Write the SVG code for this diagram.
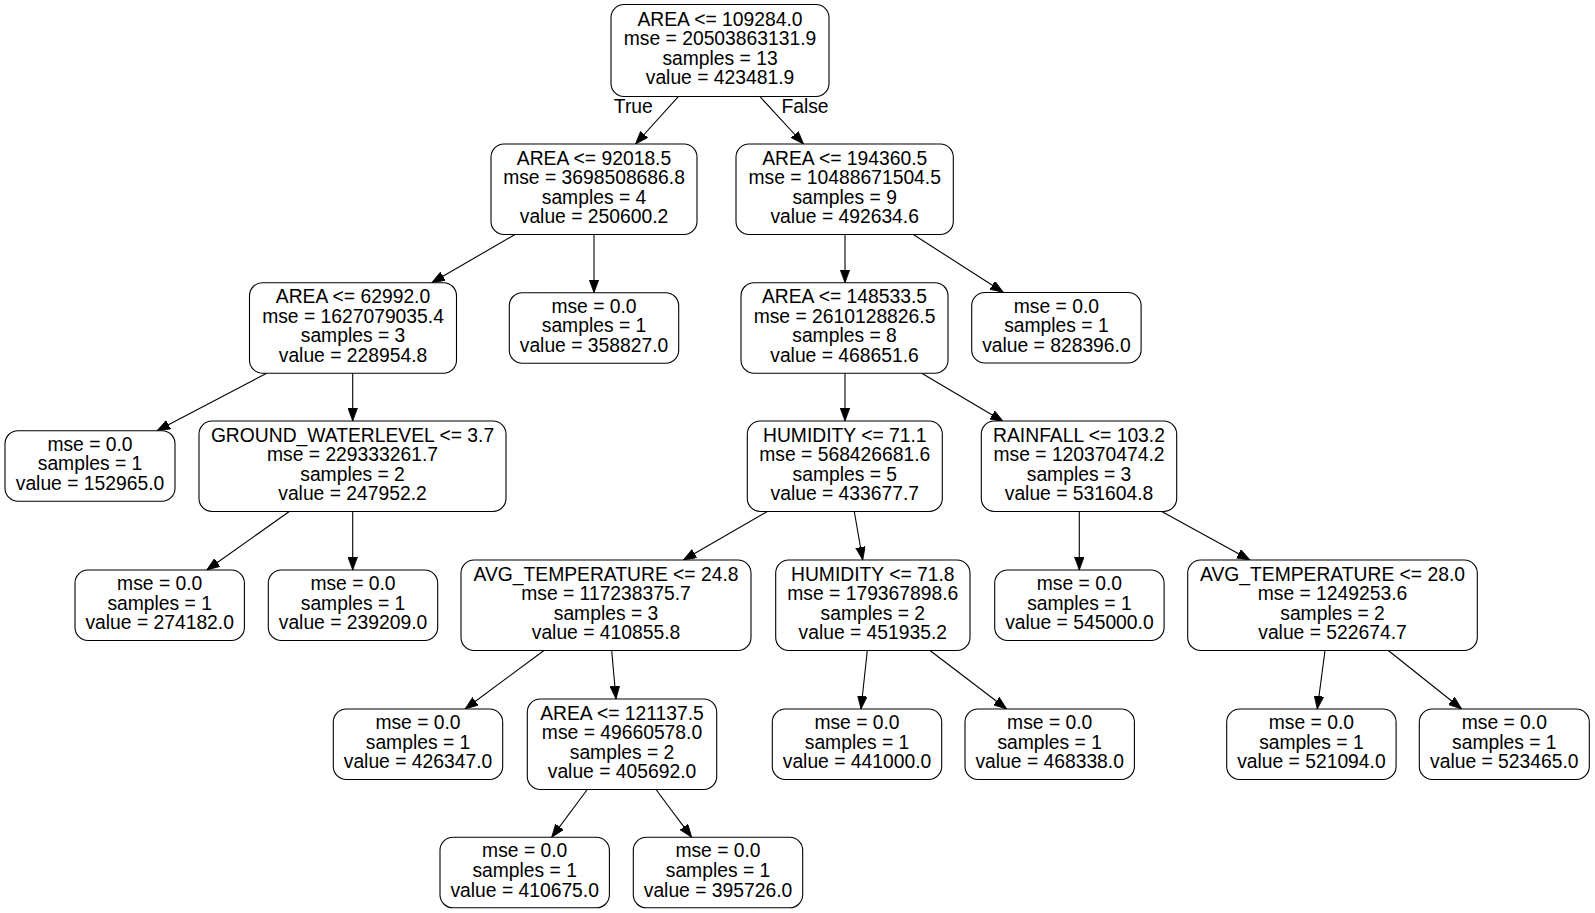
<svg xmlns="http://www.w3.org/2000/svg" width="1595" height="913" viewBox="0 0 1595 913">
  <style>
    .box { fill: #ffffff; stroke: #000000; stroke-width: 1.1; }
    .t { font-family: "Liberation Sans", Arial, sans-serif; font-size: 19.3px; fill: #000000; text-anchor: middle; }
    .edge { stroke: #000000; stroke-width: 1.1; fill: none; marker-end: url(#arrow); }
  </style>
  <defs>
    <marker id="arrow" markerUnits="userSpaceOnUse" markerWidth="14" markerHeight="10" refX="13" refY="4.8" orient="auto">
      <path d="M0,0 L13,4.8 L0,9.6 z" fill="#000000" stroke="#000000" stroke-width="0.8"/>
    </marker>
  </defs>
  <rect width="1595" height="913" fill="#ffffff"/>

  <!-- connectors -->
  <g id="edges">
    <path class="edge" d="M678.3,96.7 L635.5,144"/>
    <path class="edge" d="M760,96.7 L803.5,144"/>
    <path class="edge" d="M515,234.5 L431.7,282.7"/>
    <path class="edge" d="M594,234.5 L594,292.7"/>
    <path class="edge" d="M845,234.5 L845,282.7"/>
    <path class="edge" d="M913.3,234.5 L1003.3,292.3"/>
    <path class="edge" d="M266.7,373.2 L157,430.7"/>
    <path class="edge" d="M352.7,373.2 L352.7,421"/>
    <path class="edge" d="M289.3,511.5 L206.7,570"/>
    <path class="edge" d="M352.7,511.5 L352.7,570"/>
    <path class="edge" d="M845,373.2 L845,421"/>
    <path class="edge" d="M921.7,373.2 L1003.3,421.5"/>
    <path class="edge" d="M767.3,511.5 L683.3,560"/>
    <path class="edge" d="M854.3,511.5 L862.7,560"/>
    <path class="edge" d="M1079.3,511.5 L1079.3,570"/>
    <path class="edge" d="M1161.7,511.5 L1250,560"/>
    <path class="edge" d="M544,650.5 L465,709"/>
    <path class="edge" d="M611.7,650.5 L616,699"/>
    <path class="edge" d="M867.3,650.5 L861,709"/>
    <path class="edge" d="M930,650.5 L1006.7,709"/>
    <path class="edge" d="M1325,650.5 L1317.3,709"/>
    <path class="edge" d="M1388.3,650.5 L1461.7,709"/>
    <path class="edge" d="M587.3,789.5 L551.7,837.3"/>
    <path class="edge" d="M656,789.5 L691.7,837.3"/>
    <text class="t" x="633.3" y="113.3">True</text>
    <text class="t" x="805" y="113.3">False</text>
  </g>

  <!-- nodes -->
  <g id="n0">
    <rect class="box" x="611" y="4.5" width="218" height="92" rx="13"/>
    <text class="t" x="720" y="25.5">AREA &lt;= 109284.0</text>
    <text class="t" x="720" y="45.1">mse = 20503863131.9</text>
    <text class="t" x="720" y="64.7">samples = 13</text>
    <text class="t" x="720" y="84.3">value = 423481.9</text>
  </g>
  <g id="n1">
    <rect class="box" x="491" y="144" width="206" height="90.5" rx="13"/>
    <text class="t" x="594" y="164.5">AREA &lt;= 92018.5</text>
    <text class="t" x="594" y="184.1">mse = 3698508686.8</text>
    <text class="t" x="594" y="203.7">samples = 4</text>
    <text class="t" x="594" y="223.3">value = 250600.2</text>
  </g>
  <g id="n2">
    <rect class="box" x="249.5" y="282.7" width="207" height="90.5" rx="13"/>
    <text class="t" x="353" y="303.2">AREA &lt;= 62992.0</text>
    <text class="t" x="353" y="322.8">mse = 1627079035.4</text>
    <text class="t" x="353" y="342.4">samples = 3</text>
    <text class="t" x="353" y="362">value = 228954.8</text>
  </g>
  <g id="n3">
    <rect class="box" x="5" y="430.7" width="170" height="70.5" rx="13"/>
    <text class="t" x="90" y="450.7">mse = 0.0</text>
    <text class="t" x="90" y="470.3">samples = 1</text>
    <text class="t" x="90" y="489.9">value = 152965.0</text>
  </g>
  <g id="n4">
    <rect class="box" x="199" y="421" width="307" height="90.5" rx="13"/>
    <text class="t" x="352.5" y="441.5">GROUND_WATERLEVEL &lt;= 3.7</text>
    <text class="t" x="352.5" y="461.1">mse = 229333261.7</text>
    <text class="t" x="352.5" y="480.7">samples = 2</text>
    <text class="t" x="352.5" y="500.3">value = 247952.2</text>
  </g>
  <g id="n5">
    <rect class="box" x="75" y="570" width="169.4" height="70.5" rx="13"/>
    <text class="t" x="159.7" y="590">mse = 0.0</text>
    <text class="t" x="159.7" y="609.6">samples = 1</text>
    <text class="t" x="159.7" y="629.2">value = 274182.0</text>
  </g>
  <g id="n6">
    <rect class="box" x="268.3" y="570" width="169.4" height="70.5" rx="13"/>
    <text class="t" x="353" y="590">mse = 0.0</text>
    <text class="t" x="353" y="609.6">samples = 1</text>
    <text class="t" x="353" y="629.2">value = 239209.0</text>
  </g>
  <g id="n7">
    <rect class="box" x="509.3" y="292.7" width="169.4" height="70.5" rx="13"/>
    <text class="t" x="594" y="312.7">mse = 0.0</text>
    <text class="t" x="594" y="332.3">samples = 1</text>
    <text class="t" x="594" y="351.9">value = 358827.0</text>
  </g>
  <g id="n8">
    <rect class="box" x="736" y="144" width="217.3" height="90.5" rx="13"/>
    <text class="t" x="844.7" y="164.5">AREA &lt;= 194360.5</text>
    <text class="t" x="844.7" y="184.1">mse = 10488671504.5</text>
    <text class="t" x="844.7" y="203.7">samples = 9</text>
    <text class="t" x="844.7" y="223.3">value = 492634.6</text>
  </g>
  <g id="n9">
    <rect class="box" x="741" y="282.7" width="207" height="90.5" rx="13"/>
    <text class="t" x="844.5" y="303.2">AREA &lt;= 148533.5</text>
    <text class="t" x="844.5" y="322.8">mse = 2610128826.5</text>
    <text class="t" x="844.5" y="342.4">samples = 8</text>
    <text class="t" x="844.5" y="362">value = 468651.6</text>
  </g>
  <g id="n10">
    <rect class="box" x="747.3" y="421" width="195" height="90.5" rx="13"/>
    <text class="t" x="844.8" y="441.5">HUMIDITY &lt;= 71.1</text>
    <text class="t" x="844.8" y="461.1">mse = 568426681.6</text>
    <text class="t" x="844.8" y="480.7">samples = 5</text>
    <text class="t" x="844.8" y="500.3">value = 433677.7</text>
  </g>
  <g id="n11">
    <rect class="box" x="461" y="560" width="290" height="90.5" rx="13"/>
    <text class="t" x="606" y="580.5">AVG_TEMPERATURE &lt;= 24.8</text>
    <text class="t" x="606" y="600.1">mse = 117238375.7</text>
    <text class="t" x="606" y="619.7">samples = 3</text>
    <text class="t" x="606" y="639.3">value = 410855.8</text>
  </g>
  <g id="n12">
    <rect class="box" x="333.3" y="709" width="169.4" height="70.5" rx="13"/>
    <text class="t" x="418" y="729">mse = 0.0</text>
    <text class="t" x="418" y="748.6">samples = 1</text>
    <text class="t" x="418" y="768.2">value = 426347.0</text>
  </g>
  <g id="n13">
    <rect class="box" x="527.3" y="699" width="189.4" height="90.5" rx="13"/>
    <text class="t" x="622" y="719.5">AREA &lt;= 121137.5</text>
    <text class="t" x="622" y="739.1">mse = 49660578.0</text>
    <text class="t" x="622" y="758.7">samples = 2</text>
    <text class="t" x="622" y="778.3">value = 405692.0</text>
  </g>
  <g id="n14">
    <rect class="box" x="440" y="837.3" width="169.4" height="70.5" rx="13"/>
    <text class="t" x="524.7" y="857.3">mse = 0.0</text>
    <text class="t" x="524.7" y="876.9">samples = 1</text>
    <text class="t" x="524.7" y="896.5">value = 410675.0</text>
  </g>
  <g id="n15">
    <rect class="box" x="633.3" y="837.3" width="169.4" height="70.5" rx="13"/>
    <text class="t" x="718" y="857.3">mse = 0.0</text>
    <text class="t" x="718" y="876.9">samples = 1</text>
    <text class="t" x="718" y="896.5">value = 395726.0</text>
  </g>
  <g id="n16">
    <rect class="box" x="775.7" y="560" width="194.3" height="90.5" rx="13"/>
    <text class="t" x="872.8" y="580.5">HUMIDITY &lt;= 71.8</text>
    <text class="t" x="872.8" y="600.1">mse = 179367898.6</text>
    <text class="t" x="872.8" y="619.7">samples = 2</text>
    <text class="t" x="872.8" y="639.3">value = 451935.2</text>
  </g>
  <g id="n17">
    <rect class="box" x="772.3" y="709" width="169.4" height="70.5" rx="13"/>
    <text class="t" x="857" y="729">mse = 0.0</text>
    <text class="t" x="857" y="748.6">samples = 1</text>
    <text class="t" x="857" y="768.2">value = 441000.0</text>
  </g>
  <g id="n18">
    <rect class="box" x="965" y="709" width="169.4" height="70.5" rx="13"/>
    <text class="t" x="1049.7" y="729">mse = 0.0</text>
    <text class="t" x="1049.7" y="748.6">samples = 1</text>
    <text class="t" x="1049.7" y="768.2">value = 468338.0</text>
  </g>
  <g id="n19">
    <rect class="box" x="981.3" y="421" width="195.4" height="90.5" rx="13"/>
    <text class="t" x="1079" y="441.5">RAINFALL &lt;= 103.2</text>
    <text class="t" x="1079" y="461.1">mse = 120370474.2</text>
    <text class="t" x="1079" y="480.7">samples = 3</text>
    <text class="t" x="1079" y="500.3">value = 531604.8</text>
  </g>
  <g id="n20">
    <rect class="box" x="994.7" y="570" width="169.4" height="70.5" rx="13"/>
    <text class="t" x="1079.4" y="590">mse = 0.0</text>
    <text class="t" x="1079.4" y="609.6">samples = 1</text>
    <text class="t" x="1079.4" y="629.2">value = 545000.0</text>
  </g>
  <g id="n21">
    <rect class="box" x="1187.7" y="560" width="289.6" height="90.5" rx="13"/>
    <text class="t" x="1332.5" y="580.5">AVG_TEMPERATURE &lt;= 28.0</text>
    <text class="t" x="1332.5" y="600.1">mse = 1249253.6</text>
    <text class="t" x="1332.5" y="619.7">samples = 2</text>
    <text class="t" x="1332.5" y="639.3">value = 522674.7</text>
  </g>
  <g id="n22">
    <rect class="box" x="1226.7" y="709" width="169.4" height="70.5" rx="13"/>
    <text class="t" x="1311.4" y="729">mse = 0.0</text>
    <text class="t" x="1311.4" y="748.6">samples = 1</text>
    <text class="t" x="1311.4" y="768.2">value = 521094.0</text>
  </g>
  <g id="n23">
    <rect class="box" x="1419.3" y="709" width="170" height="70.5" rx="13"/>
    <text class="t" x="1504.3" y="729">mse = 0.0</text>
    <text class="t" x="1504.3" y="748.6">samples = 1</text>
    <text class="t" x="1504.3" y="768.2">value = 523465.0</text>
  </g>
  <g id="n24">
    <rect class="box" x="971.7" y="292.5" width="169.4" height="70.5" rx="13"/>
    <text class="t" x="1056.4" y="312.5">mse = 0.0</text>
    <text class="t" x="1056.4" y="332.1">samples = 1</text>
    <text class="t" x="1056.4" y="351.7">value = 828396.0</text>
  </g>
</svg>
